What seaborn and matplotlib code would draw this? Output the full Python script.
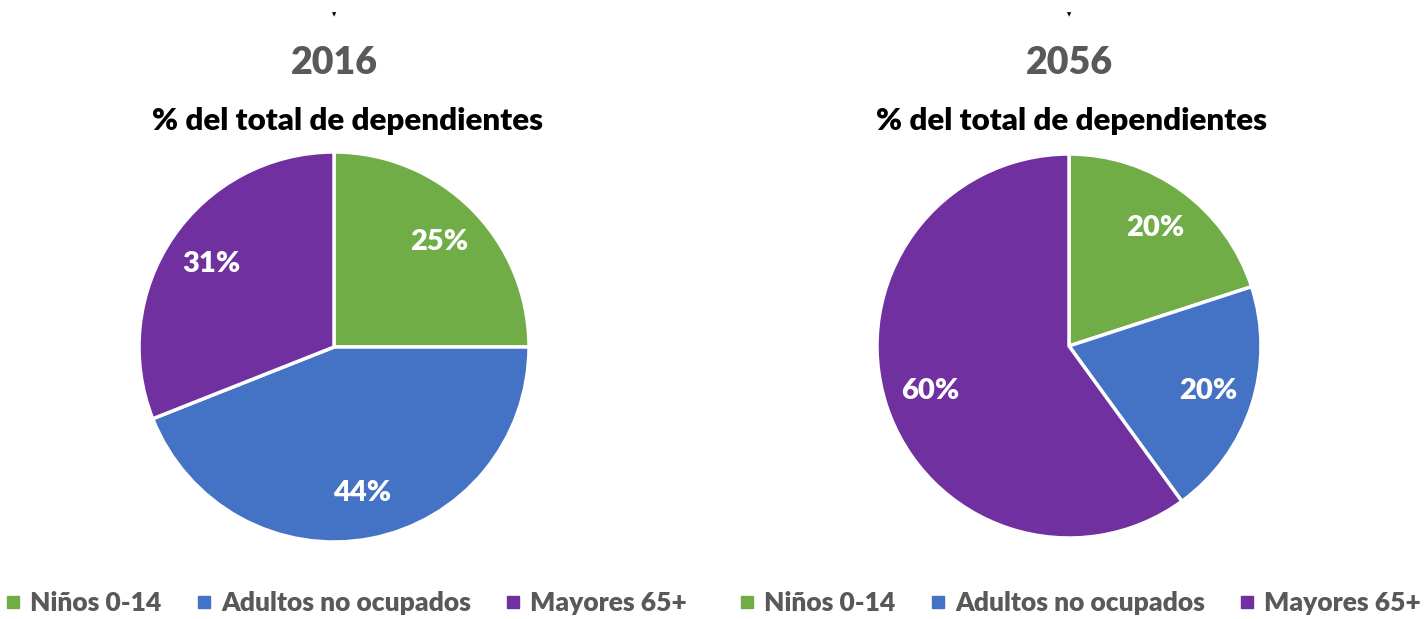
import matplotlib
matplotlib.use("Agg")
import matplotlib.pyplot as plt
import seaborn as sns

categories = ["Niños 0-14", "Adultos no ocupados", "Mayores 65+"]
years = ["2016", "2056"]
shares_2016 = [25, 44, 31]
shares_2056 = [20, 20, 60]
subtitle = "% del total de dependientes"

colors = ["#70AD47", "#4472C4", "#7030A0"]

sns.set_theme(style="white")
plt.rcParams['font.family'] = ['Lato', 'DejaVu Sans']

W, H = 1428, 619
fig = plt.figure(figsize=(W / 100, H / 100), dpi=100)


def draw_pie(cx, cy, r, year, values, sub_cx, legend_cx):
    ax = fig.add_axes([(cx - r) / W, 1 - (cy + r) / H, 2 * r / W, 2 * r / H])
    ax.pie(values, colors=colors, startangle=90, counterclock=False,
           labels=[f"{v}%" for v in values], labeldistance=0.76,
           wedgeprops={"edgecolor": "white", "linewidth": 2.5},
           textprops={"color": "white", "fontsize": 21, "fontweight": "heavy",
                      "ha": "center", "va": "center"})
    ax.set_xlim(-1, 1)
    ax.set_ylim(-1, 1)
    ax.set_aspect("equal")
    fig.text(cx / W, 1 - 63 / H, year, ha="center", va="center",
             fontsize=27, fontweight="heavy", color="#595959")
    fig.text(sub_cx / W, 1 - 121 / H, subtitle, ha="center", va="center",
             fontsize=22.5, fontweight="heavy", color="black")
    fig.text(cx / W, 1 - 15 / H, "▼", ha="center", va="center",
             fontsize=4, color="black", family="DejaVu Sans")
    handles = [plt.Line2D([], [], marker="s", linestyle="", markersize=8,
                          markerfacecolor=c, markeredgecolor=c) for c in colors]
    leg = fig.legend(handles, categories, loc="center",
                     bbox_to_anchor=(legend_cx / W, 1 - 603 / H), ncol=3,
                     frameon=False, handletextpad=0.35, columnspacing=1.3,
                     handlelength=0.6, prop={"size": 19, "weight": "heavy"})
    for t in leg.get_texts():
        t.set_color("#595959")


draw_pie(334, 347, 195, years[0], shares_2016, 348, 346)
draw_pie(1069, 346, 192, years[1], shares_2056, 1072, 1080)

fig.savefig("out.png", dpi=100)
